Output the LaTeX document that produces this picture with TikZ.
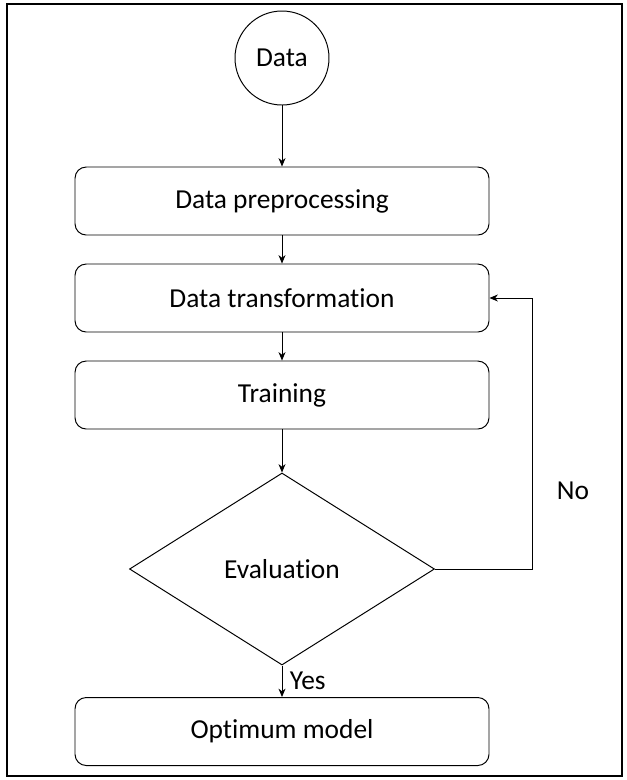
\documentclass[tikz,border=0pt]{standalone}
\usepackage{fontspec}
\setmainfont{Carlito}[Ligatures=NoCommon]
\usetikzlibrary{shapes.geometric,arrows.meta}

\tikzset{
  stepbox/.style={draw, rounded corners=8pt, line width=0.7pt, minimum width=10.35cm, minimum height=1.7cm},
  flow/.style={-{Stealth[length=6pt,width=5pt]}, line width=0.6pt}
}

\begin{document}
\begin{tikzpicture}[font=\fontsize{19.5}{23}\selectfont]

 % Frame
    \useasboundingbox (0,0) rectangle (15.675,-19.5);
    \draw[line width=1.3pt] (0.175,-0.1) rectangle (15.55,-19.4);

 % The steps
    \node[draw, circle, line width=0.7pt, minimum size=2.35cm] (data) at (7.05,-1.45) {Data}; % start
    \node[stepbox] (prep) at (7.05,-5.025) {Data preprocessing};
    \node[stepbox] (trans) at (7.05,-7.45) {Data transformation};
    \node[stepbox] (train) at (7.05,-9.875) {Training};
    \node[draw, diamond, line width=0.7pt, minimum width=7.625cm, minimum height=4.8cm, inner sep=0pt] (eval) at (7.05,-14.225) {Evaluation}; % decision
    \node[stepbox] (best) at (7.05,-18.2875) {Optimum model};

 % Arrows
    \draw[flow] (data) -- (prep);
    \draw[flow] (prep) -- (trans);
    \draw[flow] (trans) -- (train);
    \draw[flow] (train) -- (eval);
    \draw[flow] (eval) -- node[right, xshift=2pt] {Yes} (best);
    \draw[flow] (eval.east) -| (13.3,-7.45) node[pos=0.645, right, xshift=14pt] {No} -- (trans.east); % loop back

\end{tikzpicture}
\end{document}
